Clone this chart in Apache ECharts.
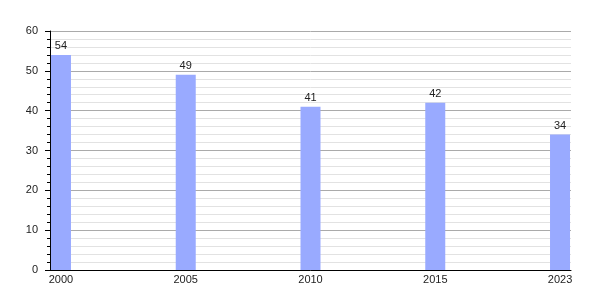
<!DOCTYPE html>
<html><head><meta charset="utf-8">
<script src="https://cdn.jsdelivr.net/npm/echarts@6/dist/echarts.min.js"></script>
<style>html,body{margin:0;padding:0;background:#fff}#c{width:600px;height:300px}</style>
</head><body><div id="c"></div>
<script>
var categories = ['2000', '2005', '2010', '2015', '2023'];
var values = [54, 49, 41, 42, 34];
var yTicks = [0, 10, 20, 30, 40, 50, 60];

var chart = echarts.init(document.getElementById('c'), null, {renderer: 'canvas'});
chart.setOption({
  animation: false,
  grid: {left: 50, right: 29, top: 31, bottom: 30, containLabel: false},
  xAxis: {
    type: 'value', min: -0.088, max: 4.088,
    axisLine: {show: true, onZero: false, lineStyle: {color: '#000', width: 1}},
    axisTick: {show: false},
    splitLine: {show: false},
    axisLabel: {
      customValues: [0, 1, 2, 3, 4],
      formatter: function (v) { return categories[Math.round(v)]; },
      color: '#222', fontFamily: 'Liberation Sans, Arial', fontSize: 11, margin: 4
    }
  },
  yAxis: {
    type: 'value', min: yTicks[0], max: yTicks[yTicks.length - 1], interval: 10,
    axisLine: {show: true, onZero: false, lineStyle: {color: '#000', width: 1}},
    axisTick: {show: true, length: 5, lineStyle: {color: '#000'}},
    minorTick: {show: true, splitNumber: 5, length: 3, lineStyle: {color: '#000'}},
    splitLine: {show: true, lineStyle: {color: '#aaaaaa', width: 1}},
    minorSplitLine: {show: true, lineStyle: {color: '#e2e2e2', width: 1}},
    axisLabel: {color: '#222', fontFamily: 'Liberation Sans, Arial', fontSize: 11, margin: 12}
  },
  series: [{
    type: 'bar',
    data: values.map(function (v, i) { return [i, v]; }),
    barWidth: 20,
    itemStyle: {color: '#99aaff'},
    label: {show: true, position: 'top', distance: 3, color: '#222',
            fontFamily: 'Liberation Sans, Arial', fontSize: 11}
  }]
});
</script></body></html>
